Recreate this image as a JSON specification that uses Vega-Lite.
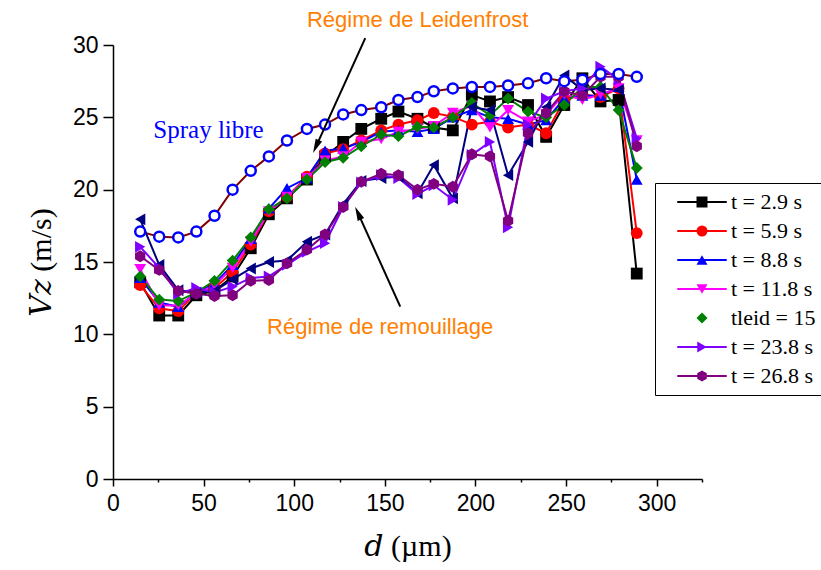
{
  "$schema": "https://vega.github.io/schema/vega-lite/v6.json",
  "autosize": "none",
  "padding": {"left": 113, "top": 45, "right": 119, "bottom": 91},
  "width": 589,
  "height": 434,
  "background": "white",
  "config": {"view": {"stroke": null}},
  "data": {"values": [
    {"d": 15, "sp": 17.1, "s1": 13.6, "s2": 13.4, "s3": 13.9, "s4": 14.5, "s5": 14.0, "s8": 17.95, "s6": 16.05, "s7": 15.4},
    {"d": 25.5, "sp": 16.75, "s1": 11.3, "s2": 11.8, "s3": 12.2, "s4": 12.0, "s5": 12.4, "s8": 14.8, "s6": 14.6, "s7": 14.45},
    {"d": 36, "sp": 16.7, "s1": 11.3, "s2": 11.6, "s3": 11.9, "s4": 12.0, "s5": 12.3, "s8": 13.05, "s6": 12.8, "s7": 13.0},
    {"d": 46, "sp": 17.1, "s1": 12.7, "s2": 12.9, "s3": 12.9, "s4": 12.8, "s5": 12.9, "s8": 12.9, "s6": 13.2, "s7": 12.8},
    {"d": 56, "sp": 18.2, "s1": 13.0, "s2": 13.2, "s3": 13.5, "s4": 13.4, "s5": 13.7, "s8": 13.0, "s6": 12.9, "s7": 12.65},
    {"d": 66, "sp": 20.0, "s1": 14.0, "s2": 14.3, "s3": 14.8, "s4": 14.6, "s5": 15.1, "s8": 13.8, "s6": 13.3, "s7": 12.7},
    {"d": 76, "sp": 21.3, "s1": 15.95, "s2": 16.2, "s3": 16.6, "s4": 16.4, "s5": 16.7, "s8": 14.55, "s6": 13.9, "s7": 13.7},
    {"d": 86, "sp": 22.3, "s1": 18.3, "s2": 18.5, "s3": 18.7, "s4": 18.5, "s5": 18.65, "s8": 15.0, "s6": 14.0, "s7": 13.75},
    {"d": 96, "sp": 23.4, "s1": 19.4, "s2": 19.5, "s3": 20.1, "s4": 19.5, "s5": 19.4, "s8": 15.1, "s6": 14.8, "s7": 14.9},
    {"d": 107, "sp": 24.2, "s1": 20.7, "s2": 20.9, "s3": 20.8, "s4": 20.8, "s5": 20.7, "s8": 16.4, "s6": 15.7, "s7": 15.85},
    {"d": 117, "sp": 24.5, "s1": 22.3, "s2": 22.5, "s3": 22.7, "s4": 22.0, "s5": 21.9, "s8": 16.9, "s6": 16.3, "s7": 16.9},
    {"d": 127, "sp": 25.2, "s1": 23.3, "s2": 22.8, "s3": 22.85, "s4": 22.3, "s5": 22.2, "s8": 19.0, "s6": 18.8, "s7": 18.8},
    {"d": 137, "sp": 25.5, "s1": 24.2, "s2": 23.4, "s3": 23.3, "s4": 23.3, "s5": 23.0, "s8": 20.6, "s6": 20.5, "s7": 20.55},
    {"d": 148, "sp": 25.7, "s1": 24.9, "s2": 24.1, "s3": 24.0, "s4": 23.5, "s5": 23.8, "s8": 20.8, "s6": 21.0, "s7": 21.1},
    {"d": 157.5, "sp": 26.2, "s1": 25.4, "s2": 24.5, "s3": 24.1, "s4": 24.0, "s5": 23.7, "s8": 20.9, "s6": 20.8, "s7": 21.0},
    {"d": 168, "sp": 26.4, "s1": 24.9, "s2": 24.8, "s3": 24.0, "s4": 24.2, "s5": 24.35, "s8": 19.75, "s6": 19.7, "s7": 20.0},
    {"d": 177, "sp": 26.8, "s1": 24.3, "s2": 25.3, "s3": 24.2, "s4": 24.4, "s5": 24.3, "s8": 21.7, "s6": 20.3, "s7": 20.4},
    {"d": 187.5, "sp": 27.0, "s1": 24.1, "s2": 25.05, "s3": 25.0, "s4": 25.3, "s5": 25.0, "s8": 19.4, "s6": 19.3, "s7": 20.2},
    {"d": 198, "sp": 27.1, "s1": 26.55, "s2": 24.5, "s3": 25.5, "s4": 25.8, "s5": 26.0, "s8": 25.7, "s6": 22.4, "s7": 22.45},
    {"d": 208, "sp": 27.1, "s1": 26.1, "s2": 24.7, "s3": 25.0, "s4": 24.3, "s5": 25.15, "s8": 25.5, "s6": 23.3, "s7": 22.3},
    {"d": 218, "sp": 27.2, "s1": 26.4, "s2": 24.3, "s3": 24.9, "s4": 25.5, "s5": 26.3, "s8": 21.0, "s6": 17.4, "s7": 17.85},
    {"d": 229, "sp": 27.35, "s1": 25.85, "s2": 24.5, "s3": 24.5, "s4": 24.7, "s5": 25.4, "s8": 23.3, "s6": 24.5, "s7": 23.9},
    {"d": 239, "sp": 27.7, "s1": 23.65, "s2": 23.9, "s3": 24.8, "s4": 25.2, "s5": 25.0, "s8": 25.7, "s6": 26.3, "s7": 25.3},
    {"d": 249, "sp": 27.5, "s1": 25.85, "s2": 26.2, "s3": 26.3, "s4": 26.6, "s5": 25.85, "s8": 27.9, "s6": 26.8, "s7": 26.8},
    {"d": 259, "sp": 27.6, "s1": 27.7, "s2": 26.6, "s3": 26.5, "s4": 26.2, "s5": 27.1, "s8": 26.9, "s6": 27.0, "s7": 26.5},
    {"d": 269, "sp": 28.0, "s1": 26.1, "s2": 26.4, "s3": 26.5, "s4": 26.6, "s5": 27.1, "s8": 27.0, "s6": 28.5, "s7": 27.8},
    {"d": 279, "sp": 28.0, "s1": 26.2, "s2": 27.0, "s3": 27.1, "s4": 27.0, "s5": 25.5, "s8": 26.9, "s6": 27.6, "s7": 27.8},
    {"d": 289, "sp": 27.8, "s1": 14.2, "s2": 17.0, "s3": 20.7, "s4": 23.4, "s5": 21.5, "s6": 23.55, "s7": 23.0}
  ]},
  "layer": [
    {
      "transform": [
        {"fold": ["sp", "s1", "s2", "s3", "s4", "s5", "s8", "s6", "s7"], "as": ["s", "v"]},
        {"filter": "isValid(datum.v)"}
      ],
      "mark": {"type": "line", "strokeWidth": 2},
      "encoding": {
        "x": {"field": "d", "type": "quantitative", "scale": {"domain": [0, 325], "nice": false, "zero": false},
          "axis": {"title": "𝑑 (µm)", "values": [0, 25, 50, 75, 100, 125, 150, 175, 200, 225, 250, 275, 300, 325],
            "labelExpr": "datum.value % 50 === 0 ? datum.label : ''",
            "tickSize": {"condition": {"test": "datum.value % 50 === 0", "value": 7}, "value": 3},
            "grid": false, "domainColor": "#000000", "domainWidth": 1.5, "tickColor": "#000000", "tickWidth": 1.5,
            "labelFont": "Liberation Sans", "labelFontSize": 23, "labelColor": "#000000", "labelPadding": 6,
            "labelFlush": false, "labelOverlap": false,
            "titleFont": "Liberation Serif, DejaVu Serif", "titleFontSize": 30, "titleFontWeight": "normal", "titleColor": "#000000", "titlePadding": 16}},
        "y": {"field": "v", "type": "quantitative", "scale": {"domain": [0, 30], "nice": false},
          "axis": {"title": "𝑉𝑧 (m/s)", "values": [0, 2.5, 5, 7.5, 10, 12.5, 15, 17.5, 20, 22.5, 25, 27.5, 30],
            "labelExpr": "datum.value % 5 === 0 ? datum.label : ''",
            "tickSize": {"condition": {"test": "datum.value % 5 === 0", "value": 10}, "value": 5},
            "grid": false, "domainColor": "#000000", "domainWidth": 1.5, "tickColor": "#000000", "tickWidth": 1.5,
            "labelFont": "Liberation Sans", "labelFontSize": 23, "labelColor": "#000000", "labelPadding": 5,
            "labelFlush": false, "labelOverlap": false,
            "titleFont": "Liberation Serif, DejaVu Serif", "titleFontSize": 30, "titleFontWeight": "normal", "titleColor": "#000000", "titlePadding": 16}},
        "stroke": {"field": "s", "type": "nominal",
          "scale": {"domain": ["s1", "s2", "s3", "s4", "s5", "s6", "s7", "s8", "sp"],
            "range": ["#000000", "#ff0000", "#0000ff", "#ff00ff", "#008000", "#8000ff", "#800080", "#000080", "#800000"]},
          "legend": {
            "values": ["s1", "s2", "s3", "s4", "s5", "s6", "s7"],
            "title": null,
            "orient": "none", "legendX": 542, "legendY": 138,
            "padding": 8,
            "symbolType": "M-4.5,0H4.5", "symbolSize": 121, "symbolStrokeWidth": 2, "symbolOffset": 28,
            "labelOffset": 18, "rowPadding": 7,
            "labelFont": "Liberation Serif", "labelFontSize": 22, "labelOpacity": 0, "labelLimit": 200,
            "labelExpr": "{'s1':'t = 2.9 s','s2':'t = 5.9 s','s3':'t = 8.8 s','s4':'t = 11.8 s','s5':'tleid = 15 s','s6':'t = 23.8 s','s7':'t = 26.8 s'}[datum.value]",
            "encode": {
              "symbols": {"update": {
                "opacity": {"signal": "datum.value === 's5' ? 0 : 1"}
              }}
            }
          }}
      }
    },
    {
      "transform": [
        {"fold": ["s1", "s2", "s3", "s4", "s5", "s8", "s6", "s7"], "as": ["s", "v"]},
        {"filter": "isValid(datum.v)"}
      ],
      "mark": {"type": "point", "filled": true, "size": 140, "opacity": 1, "strokeWidth": 0},
      "encoding": {
        "x": {"field": "d", "type": "quantitative"},
        "y": {"field": "v", "type": "quantitative"},
        "fill": {"field": "s", "type": "nominal",
          "scale": {"domain": ["s1", "s2", "s3", "s4", "s5", "s6", "s7", "s8"],
            "range": ["#000000", "#ff0000", "#0000ff", "#ff00ff", "#008000", "#8000ff", "#800080", "#000080"]},
          "legend": {
            "values": ["s1", "s2", "s3", "s4", "s5", "s6", "s7"],
            "title": null,
            "orient": "none", "legendX": 542, "legendY": 138,
            "padding": 8, "strokeColor": "#000000",
            "symbolSize": 121, "symbolOffset": 28, "labelOffset": 18, "rowPadding": 7,
            "labelFont": "Liberation Serif", "labelFontSize": 22, "labelColor": "#000000", "labelLimit": 200,
            "labelExpr": "{'s1':'t = 2.9 s','s2':'t = 5.9 s','s3':'t = 8.8 s','s4':'t = 11.8 s','s5':'tleid = 15 s','s6':'t = 23.8 s','s7':'t = 26.8 s'}[datum.value]",
            "encode": {
              "legend": {"update": {"strokeWidth": {"value": 1.5}}},
              "symbols": {"update": {
                "opacity": {"signal": "datum.value === 's5' ? 0 : 1"}
              }},
              "labels": {"update": {
                "fill": {"signal": "datum.value === 's5' ? '#ff0000' : '#000000'"},
                "fontWeight": {"signal": "datum.value === 's5' ? 'bold' : 'normal'"},
                "dx": {"signal": "datum.value === 's5' ? -53 : 0"}
              }}
            }
          }},
        "shape": {"field": "s", "type": "nominal",
          "scale": {"domain": ["s1", "s2", "s3", "s4", "s5", "s6", "s7", "s8"],
            "range": ["square", "circle", "triangle-up", "triangle-down", "diamond", "triangle-right", "M0,-1L0.87,-0.5V0.5L0,1L-0.87,0.5V-0.5Z", "triangle-left"]},
          "legend": {
            "values": ["s1", "s2", "s3", "s4", "s5", "s6", "s7"],
            "title": null,
            "orient": "none", "legendX": 542, "legendY": 138,
            "padding": 8, "strokeColor": "#000000",
            "symbolSize": 121, "symbolOffset": 28, "labelOffset": 18, "rowPadding": 7,
            "labelFont": "Liberation Serif", "labelFontSize": 22, "labelColor": "#000000", "labelLimit": 200,
            "labelExpr": "{'s1':'t = 2.9 s','s2':'t = 5.9 s','s3':'t = 8.8 s','s4':'t = 11.8 s','s5':'tleid = 15 s','s6':'t = 23.8 s','s7':'t = 26.8 s'}[datum.value]",
            "encode": {
              "legend": {"update": {"strokeWidth": {"value": 1.5}}},
              "symbols": {"update": {
                "opacity": {"signal": "datum.value === 's5' ? 0 : 1"}
              }},
              "labels": {"update": {
                "fill": {"signal": "datum.value === 's5' ? '#ff0000' : '#000000'"},
                "fontWeight": {"signal": "datum.value === 's5' ? 'bold' : 'normal'"},
                "dx": {"signal": "datum.value === 's5' ? -53 : 0"}
              }}
            }
          }}
      }
    },
    {
      "mark": {"type": "point", "shape": "circle", "filled": false, "fill": "#ffffff", "fillOpacity": 1, "stroke": "#0000ff", "strokeWidth": 2.5, "size": 100, "opacity": 1},
      "encoding": {
        "x": {"field": "d", "type": "quantitative"},
        "y": {"field": "sp", "type": "quantitative"}
      }
    },
    {
      "data": {"values": [{}]},
      "mark": {"type": "text", "text": "Spray libre", "font": "Liberation Serif", "fontSize": 25, "color": "#0000ff", "align": "center", "baseline": "middle"},
      "encoding": {"x": {"datum": 52.7}, "y": {"datum": 24.1}}
    },
    {
      "data": {"values": [{}]},
      "mark": {"type": "text", "text": "Régime de Leidenfrost", "font": "Liberation Sans", "fontSize": 22, "color": "#ff8000", "align": "center", "baseline": "middle"},
      "encoding": {"x": {"datum": 168.1}, "y": {"datum": 31.7}}
    },
    {
      "data": {"values": [{}]},
      "mark": {"type": "text", "text": "Régime de remouillage", "font": "Liberation Sans", "fontSize": 22, "color": "#ff8000", "align": "center", "baseline": "middle"},
      "encoding": {"x": {"datum": 147.4}, "y": {"datum": 10.5}}
    },
    {
      "data": {"values": [{}]},
      "mark": {"type": "rule", "color": "#000000", "strokeWidth": 2},
      "encoding": {"x": {"datum": 139.2}, "y": {"datum": 30.48}, "x2": {"datum": 112.0}, "y2": {"datum": 22.98}}
    },
    {
      "data": {"values": [{}]},
      "mark": {"type": "rule", "color": "#000000", "strokeWidth": 2},
      "encoding": {"x": {"datum": 158.5}, "y": {"datum": 11.91}, "x2": {"datum": 135.2}, "y2": {"datum": 18.38}}
    },
    {
      "data": {"values": [{}]},
      "mark": {"type": "point", "shape": "M0,-1L0.5,1L-0.5,1Z", "filled": true, "color": "#000000", "size": 200, "opacity": 1, "angle": 204.3},
      "encoding": {"x": {"datum": 112.0}, "y": {"datum": 22.98}}
    },
    {
      "data": {"values": [{}]},
      "mark": {"type": "point", "shape": "M0,-1L0.5,1L-0.5,1Z", "filled": true, "color": "#000000", "size": 200, "opacity": 1, "angle": 335.8},
      "encoding": {"x": {"datum": 135.2}, "y": {"datum": 18.38}}
    }
  ]
}
